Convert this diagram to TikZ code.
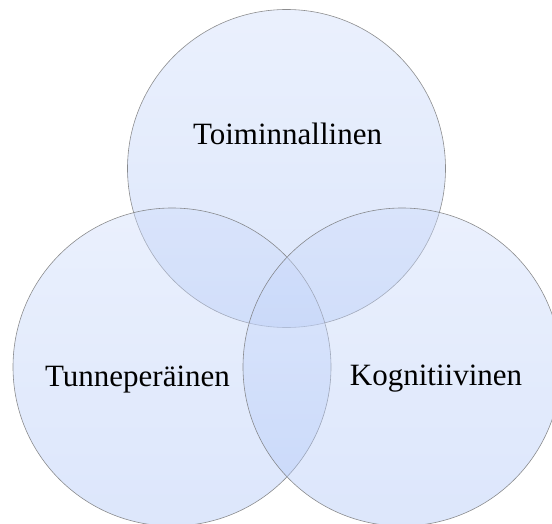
\documentclass[tikz,border=0pt]{standalone}
\usepackage{fontspec}
\setmainfont{Liberation Serif}
\begin{document}
\begin{tikzpicture}[x=1pt,y=-1pt,
  venn/.style={circle, inner sep=0pt, outer sep=0pt, minimum size=318pt,
    draw=black!55, line width=0.6pt, fill opacity=0.42, draw opacity=0.8,
    top color={rgb,255:red,206;green,220;blue,251},
    bottom color={rgb,255:red,172;green,196;blue,246}},
  lbl/.style={anchor=base, font=\fontsize{31}{35}\selectfont, text=black, inner sep=0pt}]
\useasboundingbox (0,0) rectangle (552,524);
\clip (0,0) rectangle (552,524);
\node[venn] (top) at (286.5,168.5) {};
\node[venn] (left) at (172,367) {};
\node[venn] (right) at (402,367) {};
\node[lbl] (t1) at (287.5,145) {Toiminnallinen};
\node[lbl] (t2) at (137.5,386) {Tunneperäinen};
\node[lbl] (t3) at (436,385) {Kognitiivinen};
\end{tikzpicture}
\end{document}
